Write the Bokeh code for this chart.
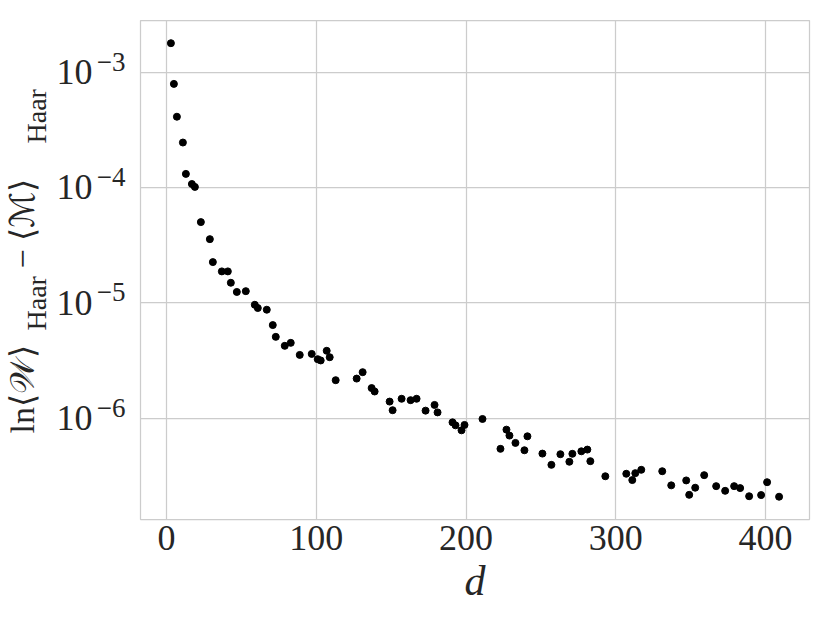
import math
from bokeh.plotting import figure
from bokeh.layouts import row
from bokeh.models import Label, FixedTicker, Range1d, LogAxis
from bokeh.embed import file_html
from bokeh.resources import INLINE

# ---- data ----
d = [3, 5, 7, 11, 13, 17, 19, 23, 29, 31, 37, 41, 43, 47, 53, 59, 61, 67, 71, 73,
     79, 83, 89, 97, 101, 103, 107, 109, 113, 127, 131, 137, 139, 149, 151, 157, 163,
     167, 173, 179, 181, 191, 193, 197, 199, 211, 223, 227, 229, 233, 239, 241, 251,
     257, 263, 269, 271, 277, 281, 283, 293, 307, 311, 313, 317, 331, 337, 347, 349,
     353, 359, 367, 373, 379, 383, 389, 397, 401, 409]
diff = [1.78e-3, 7.9e-4, 4.1e-4, 2.45e-4, 1.31e-4, 1.07e-4, 1.01e-4, 5.0e-5, 3.56e-5,
        2.25e-5, 1.87e-5, 1.87e-5, 1.49e-5, 1.24e-5, 1.26e-5, 9.6e-6, 9.0e-6, 8.7e-6,
        6.4e-6, 5.06e-6, 4.23e-6, 4.49e-6, 3.53e-6, 3.6e-6, 3.24e-6, 3.16e-6, 3.83e-6,
        3.37e-6, 2.13e-6, 2.2e-6, 2.5e-6, 1.82e-6, 1.70e-6, 1.39e-6, 1.17e-6, 1.47e-6,
        1.43e-6, 1.47e-6, 1.16e-6, 1.30e-6, 1.12e-6, 9.18e-7, 8.65e-7, 7.83e-7, 8.72e-7,
        9.82e-7, 5.41e-7, 7.94e-7, 7.05e-7, 6.09e-7, 5.26e-7, 6.95e-7, 4.92e-7, 3.93e-7,
        4.86e-7, 4.18e-7, 4.90e-7, 5.15e-7, 5.33e-7, 4.23e-7, 3.13e-7, 3.29e-7, 2.90e-7,
        3.33e-7, 3.56e-7, 3.46e-7, 2.61e-7, 2.88e-7, 2.16e-7, 2.49e-7, 3.20e-7, 2.57e-7,
        2.34e-7, 2.57e-7, 2.47e-7, 2.10e-7, 2.15e-7, 2.78e-7, 2.08e-7]

x_ticks = [0, 100, 200, 300, 400]
y_ticks = [1e-6, 1e-5, 1e-4, 1e-3]
y_tick_mantissa = ["10", "10", "10", "10"]
y_tick_exponents = ["\u22126", "\u22125", "\u22124", "\u22123"]
x_label = "d"
y_label_parts = ["ln\u27e8\U0001D4B2\u27e9", "Haar", "\u2212 \u27e8\u2133\u27e9", "Haar"]

FONT = "Liberation Serif"
TEXT = "#262626"
GRID = "#cccccc"
H = 611
W_LEFT = 53
W_MAIN = 767

p = figure(width=W_MAIN, height=H, y_axis_type="log",
           x_range=Range1d(-17.3, 429.3), y_range=Range1d(1.32e-7, 2.80e-3),
           output_backend="svg", toolbar_location=None,
           min_border_left=86, min_border_right=11, min_border_top=20, min_border_bottom=92)

p.scatter(d, diff, size=7, color="black", line_color="black")

p.background_fill_color = "white"
p.border_fill_color = "white"
p.outline_line_color = GRID
p.outline_line_width = 1.25

for g in (p.xgrid, p.ygrid):
    g.grid_line_color = GRID
    g.grid_line_width = 1.25
p.ygrid.minor_grid_line_color = None

# x axis
p.xaxis.ticker = FixedTicker(ticks=x_ticks)
p.xaxis.major_label_standoff = 6
p.xaxis.axis_label = x_label
p.xaxis.axis_label_text_font = FONT
p.xaxis.axis_label_text_font_style = "italic"
p.xaxis.axis_label_text_font_size = "42px"
p.xaxis.axis_label_text_color = TEXT
p.xaxis.axis_label_standoff = 5

# inner y axis: exponents (raised, as superscripts); outer y axis: mantissas "10"
exp_axis = p.yaxis[0]
exp_axis.ticker = FixedTicker(ticks=y_ticks, minor_ticks=[])
exp_axis.major_label_overrides = {v: s + "\n" for v, s in zip(y_ticks, y_tick_exponents)}
exp_axis.major_label_text_font_size = "27px"
exp_axis.major_label_text_line_height = 0.7
exp_axis.major_label_standoff = 15

man_axis = LogAxis(ticker=FixedTicker(ticks=y_ticks, minor_ticks=[]))
man_axis.major_label_overrides = {v: s for v, s in zip(y_ticks, y_tick_mantissa)}
man_axis.major_label_text_font_size = "36px"
man_axis.major_label_standoff = 1
p.add_layout(man_axis, "left")

for ax in (p.xaxis[0], exp_axis, man_axis):
    ax.axis_line_color = None
    ax.major_tick_line_color = None
    ax.minor_tick_line_color = None
    ax.major_tick_out = 0
    ax.major_tick_in = 0
    ax.major_label_text_font = FONT
    ax.major_label_text_color = TEXT
p.xaxis.major_label_text_font_size = "36px"

# left strip holding the y-axis title (main text + subscripts)
lf = figure(width=W_LEFT, height=H, x_range=Range1d(0, 1), y_range=Range1d(0, 1),
            x_axis_location=None, y_axis_location=None,
            output_backend="svg", toolbar_location=None, min_border=0)
lf.outline_line_color = None
lf.grid.visible = False
lf.background_fill_color = "white"
lf.border_fill_color = "white"

specs = [
    (y_label_parts[0], 22, 86, "34px"),
    (y_label_parts[1], 36, 189, "28px"),
    (y_label_parts[2], 22, 251, "34px"),
    (y_label_parts[3], 36, 376, "28px"),
]
for txt, sx, sy, fs in specs:
    lf.add_layout(Label(x=sx, y=sy, x_units="screen", y_units="screen", text=txt,
                        angle=math.pi / 2, text_align="left", text_baseline="alphabetic",
                        text_font=FONT, text_font_size=fs, text_color=TEXT))

layout = row(lf, p)
open("out.html", "w").write(file_html(layout, INLINE))
